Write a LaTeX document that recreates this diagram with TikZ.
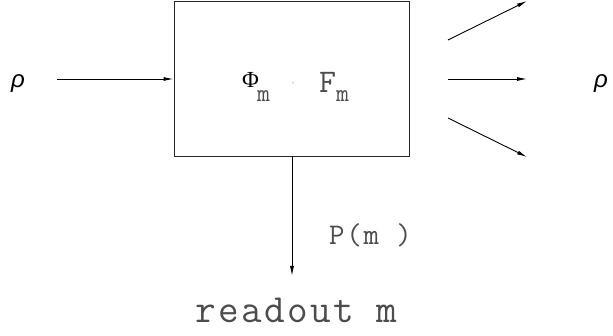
\documentclass[tikz,border=0pt]{standalone}
\usepackage{fontspec}
\setmainfont{Liberation Sans}
\newfontfamily\cour[LetterSpace=6]{Latin Modern Mono}
\newfontfamily\courn{Latin Modern Mono}
\newfontfamily\tms{Liberation Serif}
\usetikzlibrary{arrows.meta}
\begin{document}
\begin{tikzpicture}[x=1pt,y=-1pt,
  conn/.style={line width=0.9pt,-{Latex[length=10pt,width=4pt]}},
  lbl/.style={inner sep=0pt,anchor=base west},
  mono/.style={lbl,text=black!70,font=\cour\fontsize{#1}{#1}\selectfont},
  sub/.style={lbl,text=black!70,font=\courn\fontsize{#1}{#1}\selectfont},
  rho/.style={inner sep=0pt,font=\fontsize{24}{24}\selectfont\itshape}]
\useasboundingbox (0,0) rectangle (613,336);
\node[draw,black!85,line width=0.9pt,minimum width=235pt,minimum height=155pt,inner sep=0pt] (box) at (291.5,78.5) {};
\node[rho] (rin) at (18,84) {ρ};
\node[rho] (rout) at (601,84) {ρ};
\coordinate (a0) at (57,79);
\draw[conn] (a0) -- (box.west |- a0);
\coordinate (s1) at (448,40);
\coordinate (e1) at (527,1);
\coordinate (s2) at (448,79);
\coordinate (e2) at (527,79);
\coordinate (s3) at (448,118);
\coordinate (e3) at (527,157);
\draw[conn] (s1) -- (e1);
\draw[conn] (s2) -- (e2);
\draw[conn] (s3) -- (e3);
\coordinate (d1) at (292,276);
\draw[conn] (box.south -| d1) -- (d1);
\node[lbl,font=\tms\fontsize{23}{23}\selectfont] (phi) at (242,88) {Φ};
\node[sub=25] (phis) at (257,102) {m};
\node[sub=33] (f) at (319,93) {F};
\node[sub=25] (fs) at (336,102) {m};
\fill[blue!70!black] (293,83) circle (0.5pt);
\node[mono=30] (pm) at (329,245) {P(m )};
\node[mono=40] (ro) at (195,323) {readout m};
\end{tikzpicture}
\end{document}
